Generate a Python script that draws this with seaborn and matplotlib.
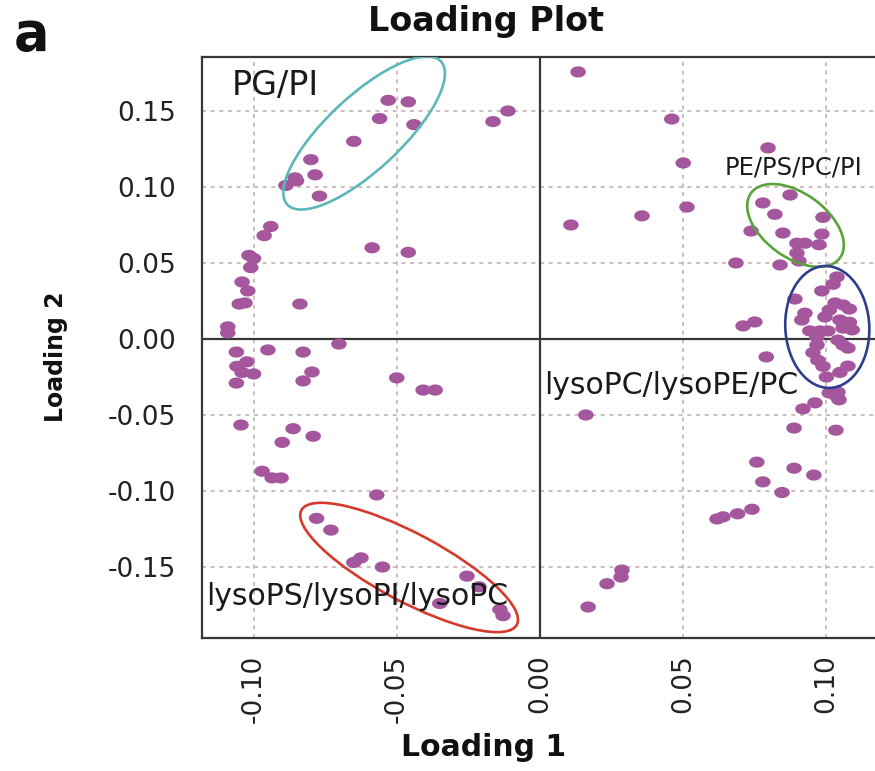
import numpy as np
import pandas as pd
import seaborn as sns
import matplotlib
matplotlib.use("Agg")
import matplotlib.pyplot as plt
from matplotlib.patches import Ellipse
from matplotlib.path import Path
import matplotlib.transforms as mtransforms

# ---- data ----
loading1 = [
    -0.053, -0.046, -0.056, -0.044, -0.065, -0.080, -0.0785, -0.0855, -0.085, -0.0887,
    -0.077, -0.0164, -0.0112, -0.094, -0.0963, -0.1016, -0.100, -0.101, -0.104, -0.102,
    -0.105, -0.103, -0.0838, -0.109, -0.109, -0.0586, -0.046,
    -0.0702, -0.106, -0.095, -0.0827, -0.1023, -0.1058, -0.104, -0.100, -0.106, -0.0796,
    -0.0827, -0.050, -0.0408, -0.0366, -0.1044, -0.0862, -0.0792, -0.090, -0.097, -0.0935,
    -0.0904, -0.057, -0.078, -0.073, -0.065, -0.0625, -0.055, -0.035, -0.0255, -0.0213,
    -0.014, -0.0129,
    0.0133, 0.046, 0.0796, 0.050, 0.0513, 0.0108, 0.0356, 0.0873, 0.0778, 0.082,
    0.0988, 0.0737, 0.0848, 0.0984, 0.0897, 0.0925, 0.0974, 0.0897, 0.0904, 0.0838,
    0.0684, 0.0709, 0.075,
    0.1037, 0.1023, 0.0984, 0.089, 0.103, 0.1058, 0.108, 0.101, 0.0925, 0.0914,
    0.0995, 0.1047, 0.108, 0.1058, 0.109, 0.0942, 0.0977, 0.1005, 0.0967, 0.104,
    0.1058, 0.1075, 0.0967, 0.0953, 0.097, 0.0988, 0.1075, 0.1047, 0.100, 0.079,
    0.101, 0.104, 0.1037, 0.096, 0.0918, 0.1044,
    0.016, 0.0887, 0.1033, 0.0757, 0.0887, 0.0956, 0.0778, 0.0845, 0.074, 0.069,
    0.0639, 0.0618, 0.0286, 0.0283, 0.0234, 0.0168,
]
loading2 = [
    0.157, 0.156, 0.145, 0.141, 0.130, 0.118, 0.108, 0.106, 0.104, 0.101,
    0.094, 0.143, 0.150, 0.074, 0.068, 0.055, 0.053, 0.047, 0.0375, 0.0316,
    0.023, 0.0237, 0.023, 0.008, 0.004, 0.060, 0.057,
    -0.0033, -0.0086, -0.0072, -0.0086, -0.015, -0.018, -0.022, -0.023, -0.029, -0.0217,
    -0.0276, -0.0256, -0.0336, -0.0336, -0.0566, -0.059, -0.064, -0.068, -0.087, -0.0914,
    -0.0914, -0.1026, -0.118, -0.1257, -0.147, -0.144, -0.150, -0.174, -0.156, -0.163,
    -0.178, -0.182,
    0.1757, 0.1447, 0.1257, 0.1158, 0.0868, 0.075, 0.081, 0.0947, 0.0895, 0.082,
    0.080, 0.071, 0.0697, 0.069, 0.063, 0.063, 0.062, 0.0566, 0.0513, 0.0487,
    0.050, 0.0086, 0.0112,
    0.0408, 0.036, 0.0316, 0.0263, 0.0237, 0.0224, 0.0197, 0.019, 0.017, 0.0125,
    0.0145, 0.0125, 0.011, 0.0072, 0.006, 0.0053, 0.0053, 0.0053, 0.0013, -0.0007,
    -0.004, -0.006, -0.004, -0.009, -0.014, -0.018, -0.0178, -0.022, -0.025, -0.0118,
    -0.0355, -0.0349, -0.038, -0.042, -0.046, -0.040,
    -0.050, -0.0586, -0.060, -0.081, -0.085, -0.0895, -0.094, -0.101, -0.112, -0.115,
    -0.117, -0.1184, -0.152, -0.1566, -0.161, -0.1763,
]
x_ticks = [-0.10, -0.05, 0.00, 0.05, 0.10]
y_ticks = [-0.15, -0.10, -0.05, 0.00, 0.05, 0.10, 0.15]
x_ticklabels = ["-0.10", "-0.05", "0.00", "0.05", "0.10"]
y_ticklabels = ["-0.15", "-0.10", "-0.05", "0.00", "0.05", "0.10", "0.15"]

group_labels = ["PG/PI", "PE/PS/PC/PI", "lysoPC/lysoPE/PC", "lysoPS/lysoPI/lysoPC"]
group_label_x = [-0.1075, 0.0645, 0.0015, -0.1165]
group_label_y = [0.1665, 0.1125, -0.0305, -0.1695]
group_label_size = [24, 17.5, 21.5, 21.5]

# ellipse groups: centre (data), full width / height (inches), angle (deg)
ell_cx = [-0.0614, 0.0892, 0.1003, -0.0457]
ell_cy = [0.1355, 0.0747, 0.0079, -0.1503]
ell_w = [2.10, 1.10, 1.22, 2.44]
ell_h = [0.74, 0.64, 0.84, 0.68]
ell_ang = [43, -36, 93, -28]
ell_col = ["#5DB7B9", "#5AA33C", "#2F3E8C", "#D63A2A"]

df = pd.DataFrame({"Loading 1": loading1, "Loading 2": loading2})

sns.set_style("white")
plt.rcParams["font.family"] = ["DejaVu Sans"]

fig = plt.figure(figsize=(8.75, 7.71), dpi=100)
W, H = 875, 771
left, right, top, bottom = 202, 878, 57, 638
ax = fig.add_axes([left / W, 1 - bottom / H, (right - left) / W, (bottom - top) / H])

# grid
ax.set_axisbelow(True)
ax.grid(True, linestyle=(0, (2.2, 2.6)), color="#c9b7b7", linewidth=1.3)
ax.axhline(0, color="#3a3633", lw=1.6, zorder=1)
ax.axvline(0, color="#3a3633", lw=1.6, zorder=1)

# elliptical dot marker (dots appear wider than tall)
t = np.linspace(0, 2 * np.pi, 60)
ell_marker = Path(np.column_stack([np.cos(t), 0.72 * np.sin(t)]), closed=True)

sns.scatterplot(data=df, x="Loading 1", y="Loading 2", ax=ax, marker=ell_marker,
                s=125, color="#A5579D", edgecolor="none", linewidth=0, zorder=3)

for cx, cy, w, h, a, c in zip(ell_cx, ell_cy, ell_w, ell_h, ell_ang, ell_col):
    tr = fig.dpi_scale_trans + mtransforms.ScaledTranslation(cx, cy, ax.transData)
    e = Ellipse((0, 0), w, h, angle=a, fill=False, edgecolor=c, lw=1.9, transform=tr, zorder=4)
    ax.add_patch(e)

for lab, lx, ly, fs in zip(group_labels, group_label_x, group_label_y, group_label_size):
    ax.text(lx, ly, lab, fontsize=fs, color="#1a1a1a", ha="left", va="center", zorder=5)

ax.set_xlim(-0.118, 0.118)
ax.set_ylim(-0.1967, 0.1855)
ax.set_xticks(x_ticks)
ax.set_xticklabels(x_ticklabels, rotation=90)
ax.set_yticks(y_ticks)
ax.set_yticklabels(y_ticklabels)
ax.tick_params(axis="both", direction="out", length=10, width=1.4, color="#222",
               labelsize=19, labelcolor="#222")
ax.tick_params(axis="x", pad=2)
ax.tick_params(axis="y", pad=9)

for s in ax.spines.values():
    s.set_color("#3a3633")
    s.set_linewidth(1.6)

ax.set_xlabel("Loading 1", fontsize=21.5, fontweight="bold", color="#111")
ax.set_ylabel("Loading 2", fontsize=17, fontweight="bold", color="#111")
ax.xaxis.set_label_coords((484 - left) / (right - left), -(748 - bottom) / (bottom - top))
ax.yaxis.set_label_coords(-(left - 56) / (right - left), (bottom - 357) / (bottom - top))
ax.xaxis.label.set_va("center")
ax.yaxis.label.set_va("center")

fig.text(486 / W, 1 - 22 / H, "Loading Plot", fontsize=24, fontweight="bold",
         ha="center", va="center", color="#111")
fig.text(14 / W, 1 - 35 / H, "a", fontsize=38, fontweight="bold",
         ha="left", va="center", color="#111")

fig.savefig("out.png", dpi=100)
